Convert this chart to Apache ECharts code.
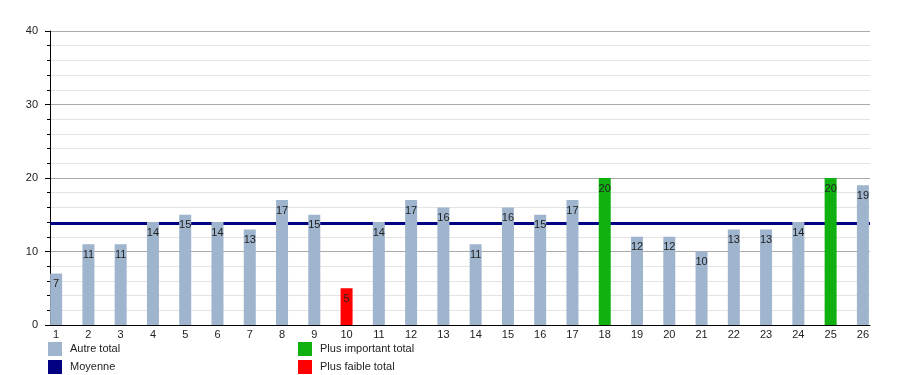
<!DOCTYPE html>
<html><head><meta charset="utf-8">
<script src="https://cdn.jsdelivr.net/npm/echarts@6/dist/echarts.min.js"></script>
<style>html,body{margin:0;padding:0;background:#fff}#c{width:900px;height:375px}</style>
</head><body><div id="c"></div>
<script>
const categories = [1,2,3,4,5,6,7,8,9,10,11,12,13,14,15,16,17,18,19,20,21,22,23,24,25,26];
const totals = [7,11,11,14,15,14,13,17,15,5,14,17,16,11,16,15,17,20,12,12,10,13,13,14,20,19];
const yTicks = [0,10,20,30,40];

const maxV = Math.max(...totals), minV = Math.min(...totals);
const mean = totals.reduce((a,b)=>a+b,0)/totals.length;
const other = [], high = [], low = [];
totals.forEach((v,i)=>{
  const x = categories[i];
  if (v === maxV) { high.push([x,v]); }
  else if (v === minV) { low.push([x,v]); }
  else { other.push([x,v]); }
});
const font = 'Liberation Sans, Arial, sans-serif';
const lbl = {show:true, position:'insideTop', distance:5, color:'#222', fontSize:11, fontFamily:font};
const legendBase = {top:342, orient:'vertical', itemWidth:14, itemHeight:14, itemGap:4, icon:'rect',
  padding:0, height:40, textStyle:{fontSize:11, color:'#222', padding:[0,0,0,3], fontFamily:font}};
const chart = echarts.init(document.getElementById('c'), null, {renderer:'canvas'});
chart.setOption({
  animation:false,
  textStyle:{fontFamily:font},
  grid:{left:50, right:30, top:31, bottom:50, containLabel:false},
  xAxis:{type:'value', min:0.81, max:26.22,
    axisLine:{show:true, lineStyle:{color:'#000', width:1}},
    axisTick:{show:false},
    splitLine:{show:false},
    axisLabel:{customValues:categories, color:'#222', fontSize:11, margin:4, fontFamily:font}
  },
  yAxis:{type:'value', min:yTicks[0], max:yTicks[yTicks.length-1], interval:10,
    axisLine:{show:true, lineStyle:{color:'#000', width:1}},
    axisTick:{show:true, length:5, lineStyle:{color:'#000'}},
    minorTick:{show:true, splitNumber:5, length:3, lineStyle:{color:'#000'}},
    splitLine:{show:true, lineStyle:{color:'#aaa', width:1}},
    minorSplitLine:{show:true, lineStyle:{color:'#e4e4e4', width:1}},
    axisLabel:{color:'#222', fontSize:11, margin:12, fontFamily:font}
  },
  legend:[
    Object.assign({}, legendBase, {left:48, data:['Autre total','Moyenne']}),
    Object.assign({}, legendBase, {left:298, data:['Plus important total','Plus faible total']})
  ],
  series:[
    {name:'Autre total', type:'bar', z:3, data:other, barWidth:12, barGap:'-100%', itemStyle:{color:'#9fb4cd'}, label:lbl},
    {name:'Moyenne', type:'line', z:1, data:[], itemStyle:{color:'#000080'}, lineStyle:{color:'#000080', width:3},
     markLine:{silent:true, z:1, symbol:'none', label:{show:false}, lineStyle:{color:'#000080', width:3, type:'solid'}, data:[{yAxis:mean}]}},
    {name:'Plus important total', type:'bar', z:3, data:high, barWidth:12, barGap:'-100%', itemStyle:{color:'#11b011'}, label:lbl},
    {name:'Plus faible total', type:'bar', z:3, data:low, barWidth:12, barGap:'-100%', itemStyle:{color:'#ff0000'}, label:lbl}
  ]
});
</script></body></html>
